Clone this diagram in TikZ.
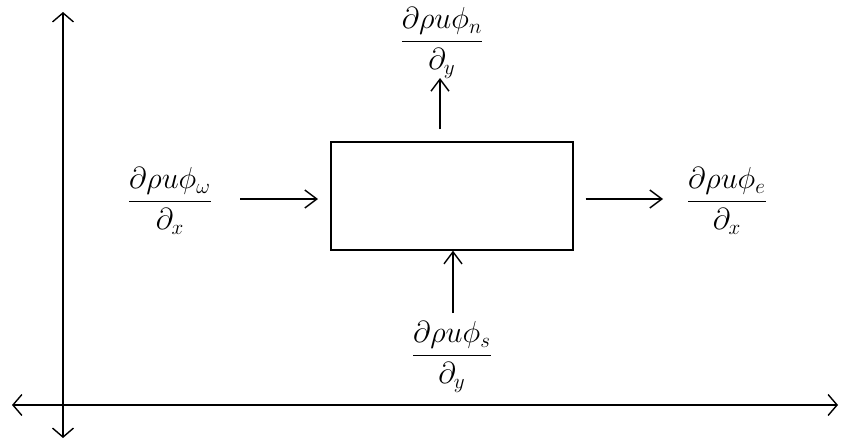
\documentclass[tikz,border=0pt]{standalone}
\usepackage{amsmath,amssymb}
\usepackage{xcolor}
\usepackage{tikz}
\usetikzlibrary{arrows.meta}
\tikzset{
cvcell/.style={rectangle,draw,line width=0.8pt,inner sep=0pt,minimum width=4.84cm,minimum height=2.16cm},
cvflux/.style={font=\LARGE,inner sep=0pt},
cvarr/.style={-{Straight Barb[length=2.4mm,width=3.6mm]},line width=0.8pt},
cvaxis/.style={{Straight Barb[length=1.8mm,width=4.2mm]}-{Straight Barb[length=1.8mm,width=4.2mm]},line width=0.8pt}
}
\begin{document}
\begin{tikzpicture}[x=1cm,y=1cm]
\useasboundingbox (0,0) rectangle (16.88,8.88);
% axes
\coordinate (ytop) at (1.26,8.64);
\coordinate (ybot) at (1.26,0.12);
\coordinate (xleft) at (0.24,0.78);
\coordinate (xright) at (16.76,0.78);
\draw[cvaxis] (ybot)--(ytop);
\draw[cvaxis] (xleft)--(xright);
% control volume
\node[cvcell] (cell) at (9.04,4.96) {};
% fluxes through the faces
\node[cvflux] (fluxw) at (3.40,4.86) {$\dfrac{\partial\rho u\phi_\omega}{\partial_x}$};
\node[cvflux] (fluxe) at (14.54,4.86) {$\dfrac{\partial\rho u\phi_e}{\partial_x}$};
\node[cvflux] (fluxn) at (8.84,8.02) {$\dfrac{\partial\rho u\phi_n}{\partial_y}$};
\node[cvflux] (fluxs) at (9.04,1.74) {$\dfrac{\partial\rho u\phi_s}{\partial_y}$};
\coordinate (win) at (4.80,4.90);
\coordinate (wout) at (6.36,4.90);
\coordinate (eout) at (13.26,4.90);
\coordinate (nout) at (8.80,7.32);
\coordinate (sin) at (9.06,2.62);
\draw[cvarr] (win)--(wout);
\draw[cvarr] (cell.east|-eout) ++(0.24,0) coordinate (ein) (ein)--(eout);
\draw[cvarr] (cell.north-|nout) ++(0,0.24) coordinate (nin) (nin)--(nout);
\draw[cvarr] (sin)--(cell.south-|sin);
\end{tikzpicture}
\end{document}
